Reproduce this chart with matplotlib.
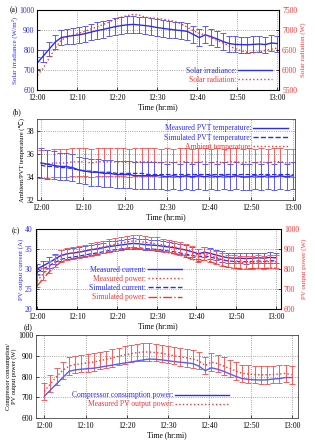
import matplotlib
matplotlib.use("Agg")
import matplotlib.pyplot as plt
from matplotlib.lines import Line2D
import numpy as np

plt.rcParams['font.family'] = ['Liberation Serif', 'DejaVu Sans']
plt.rcParams['mathtext.fontset'] = 'stix'

# time in minutes after 12:00
t = [0, 1.5, 3, 4.5, 6, 7.5, 9, 10.5, 12, 13.5, 15, 16.5, 18, 19.5, 21, 22.5, 24, 25.5, 27, 28.5,
     30, 31.5, 33, 34.5, 36, 37.5, 39, 40.5, 42, 43.5, 45, 46.5, 48, 49.5, 51, 52.5, 54, 55.5, 57, 58.5, 60]
tick_pos = [0, 10, 20, 30, 40, 50, 60]
tick_lab = ["12:00", "12:10", "12:20", "12:30", "12:40", "12:50", "13:00"]

# (a)
irr = [735, 770, 805, 840, 862, 868, 872, 876, 882, 890, 897, 903, 910, 917, 922, 926, 928, 925, 922, 918,
       912, 908, 904, 900, 897, 893, 878, 862, 876, 866, 855, 842, 832, 828, 827, 826, 828, 830, 827, 835, 832]
irr_err = [30, 32, 35, 37, 38, 39, 40, 40, 40, 40, 41, 41, 41, 42, 42, 42, 42, 42, 42, 42,
           42, 42, 42, 42, 42, 42, 42, 42, 42, 41, 41, 41, 40, 40, 40, 40, 40, 40, 40, 40, 40]
rad = [5870, 6050, 6300, 6550, 6750, 6830, 6880, 6920, 6970, 7030, 7080, 7140, 7200, 7270, 7320, 7360, 7390, 7370, 7320, 7300,
       7290, 7270, 7240, 7210, 7150, 7070, 6980, 6920, 6870, 6810, 6740, 6670, 6600, 6530, 6480, 6440, 6430, 6450, 6490, 6520, 6550]

# (b)
pvt_meas = [35.2, 35.1, 35.0, 34.9, 34.9, 34.8, 34.6, 34.5, 34.4, 34.4, 34.3, 34.3, 34.2, 34.2, 34.2, 34.1, 34.1, 34.1, 34.1, 34.1,
            34.0, 34.1, 34.0, 34.1, 34.0, 34.1, 34.0, 34.1, 34.0, 34.1, 34.0, 34.1, 34.0, 34.0, 34.1, 34.0, 34.1, 34.0, 34.1, 34.0, 34.1]
pvt_sim = [35.0, 34.9, 34.9, 34.8, 34.8, 34.7, 34.6, 34.5, 34.5, 34.4, 34.4, 34.4, 34.3, 34.3, 34.3, 34.3, 34.3, 34.2, 34.2, 34.2,
           34.2, 34.2, 34.2, 34.2, 34.2, 34.2, 34.2, 34.2, 34.2, 34.2, 34.2, 34.2, 34.2, 34.2, 34.2, 34.2, 34.2, 34.2, 34.2, 34.2, 34.2]
pvt_err = [1.3, 1.25, 1.2, 1.2, 1.15, 1.15, 1.15, 1.15, 1.15, 1.15, 1.15, 1.15, 1.15, 1.15, 1.15, 1.15, 1.15, 1.15, 1.15, 1.15,
           1.15, 1.15, 1.15, 1.15, 1.15, 1.15, 1.15, 1.15, 1.15, 1.15, 1.15, 1.15, 1.15, 1.15, 1.15, 1.15, 1.15, 1.15, 1.15, 1.15, 1.15]
amb = [35.1, 35.1, 35.2, 35.2, 35.2, 35.3, 35.3, 35.3, 35.2, 35.3, 35.3, 35.3, 35.3, 35.3, 35.2, 35.3, 35.3, 35.3, 35.3, 35.2,
       35.3, 35.2, 35.3, 35.3, 35.2, 35.3, 35.3, 35.2, 35.3, 35.2, 35.3, 35.3, 35.2, 35.3, 35.2, 35.3, 35.2, 35.3, 35.3, 35.2, 35.2]
amb_err = [1.2] * 41

# (c)
cur_meas = [30.0, 30.8, 31.6, 32.5, 33.4, 33.8, 34.0, 34.2, 34.5, 34.8, 35.0, 35.3, 35.6, 35.8, 36.0, 36.2, 36.4, 36.3, 36.1, 36.0,
            35.9, 35.7, 35.5, 35.3, 35.0, 34.7, 34.3, 33.8, 34.2, 33.9, 33.5, 33.1, 32.8, 32.7, 32.7, 32.6, 32.7, 32.8, 32.7, 32.9, 32.8]
cur_sim = [29.2, 30.0, 30.8, 31.6, 32.4, 32.8, 33.0, 33.2, 33.5, 33.8, 34.0, 34.3, 34.6, 34.8, 35.0, 35.2, 35.4, 35.3, 35.1, 35.0,
           34.9, 34.7, 34.5, 34.3, 34.0, 33.7, 33.4, 33.0, 33.3, 33.0, 32.6, 32.3, 32.0, 31.9, 31.9, 31.8, 31.9, 32.0, 31.9, 32.1, 32.0]
cur_err = [1.3] * 41
pow_meas = [740, 775, 810, 840, 865, 875, 880, 885, 890, 897, 903, 910, 917, 924, 930, 935, 940, 938, 934, 930,
            926, 920, 915, 910, 902, 893, 882, 868, 878, 868, 858, 848, 840, 836, 834, 832, 834, 836, 833, 838, 836]
pow_sim = [715, 750, 785, 812, 835, 845, 850, 855, 860, 866, 872, 878, 884, 890, 895, 900, 904, 902, 898, 894,
           890, 885, 880, 875, 867, 858, 848, 836, 845, 836, 826, 816, 808, 804, 802, 800, 802, 804, 801, 806, 804]
pow_err = [32] * 41

# (d)
comp = [705, 735, 765, 795, 825, 832, 835, 838, 840, 845, 850, 855, 860, 865, 870, 875, 880, 884, 883, 880,
        876, 872, 869, 866, 862, 850, 828, 842, 835, 825, 812, 800, 790, 786, 784, 783, 784, 788, 790, 795, 795]
pv_meas = [728, 765, 800, 830, 850, 858, 862, 866, 870, 876, 883, 890, 897, 904, 910, 915, 918, 918, 915, 912,
           906, 900, 895, 890, 884, 876, 852, 870, 862, 850, 838, 826, 815, 812, 810, 808, 808, 810, 812, 815, 808]
pv_err = [42] * 41

BLUE = '#2b2bff'
BLUE_E = '#5a5aff'
RED = '#ff3030'
RED_E = '#ff5a5a'
FS = 5.5
LFS = 5.0

fig = plt.figure(figsize=(3.15, 4.41), dpi=100)


def style(ax, xlim):
    ax.set_xlim(*xlim)
    ax.set_xticks(tick_pos)
    ax.set_xticklabels(tick_lab)
    ax.tick_params(labelsize=FS, length=2, width=0.5, direction='in', pad=2)
    ax.tick_params(axis='x', pad=3)
    ax.grid(True, linestyle=':', color='#888888', linewidth=0.6)
    for s in ax.spines.values():
        s.set_linewidth(0.6)
        s.set_color('#444444')
    ax.set_xlabel("Time (hr:mi)", fontsize=FS, labelpad=1)


W, H = 315.0, 441.0


def rect(l, r, top, bot):
    return [l / W, 1 - bot / H, (r - l) / W, (bot - top) / H]


def leg(ax, specs, **kw):
    handles = [Line2D([], [], color=c, ls=ls, lw=1.0) for (_, c, ls) in specs]
    labels = [s for (s, _, _) in specs]
    ax.legend(handles, labels, frameon=False, fontsize=FS, markerfirst=False,
              labelcolor=[c for (_, c, _) in specs], borderpad=0.1, labelspacing=0.15,
              handletextpad=0.2, **kw)


ebkw = dict(capsize=2.0, elinewidth=0.7, capthick=0.7)

# ---------- (a)
axa = fig.add_axes(rect(37.3, 279.3, 10, 90))
axa.errorbar(t, irr, yerr=irr_err, color=BLUE, ecolor=BLUE_E, lw=1.0, **ebkw)
axa.set_ylim(600, 1000)
axa.set_yticks([600, 700, 800, 900, 1000])
style(axa, (0, 60.5))
axa.tick_params(axis='y', labelcolor=BLUE)
axa.set_ylabel("Solar irradiance (W/m²)", fontsize=LFS, color=BLUE, labelpad=1)
axa2 = axa.twinx()
axa2.plot(t, rad, color=RED, ls=':', lw=1.0)
axa2.set_ylim(5500, 7500)
axa2.set_yticks([5500, 6000, 6500, 7000, 7500])
axa2.tick_params(labelsize=FS, length=2, width=0.5, direction='in', labelcolor=RED, pad=2)
axa2.set_ylabel("Solar radiation (W)", fontsize=LFS, color=RED, labelpad=2)
leg(axa2, [("Solar irradiance:", BLUE, '-'), ("Solar radiation:", RED, ':')],
    loc='lower right', bbox_to_anchor=(0.99, 0.02), handlelength=4.5)
fig.text(10 / W, 1 - 10 / H, "(a)", fontsize=FS, va='center')

# ---------- (b)
axb = fig.add_axes(rect(36.7, 295, 119, 200))
axb.errorbar(t, amb, yerr=amb_err, color=RED, ecolor=RED_E, ls=':', lw=1.0, **ebkw)
axb.errorbar(t, pvt_meas, yerr=pvt_err, color=BLUE, ecolor=BLUE_E, lw=1.0, **ebkw)
axb.plot(t, pvt_sim, color=BLUE, ls='--', lw=0.9)
axb.set_ylim(32, 39)
axb.set_yticks([32, 34, 36, 38])
style(axb, (-1.0, 60.5))
axb.set_ylabel("Ambient/PVT temperature (℃)", fontsize=4.8, labelpad=1)
leg(axb, [("Measured PVT temperature:", BLUE, '-'), ("Simulated PVT temperature:", BLUE, '--'),
          ("Ambient temperature:", RED, ':')],
    loc='upper right', bbox_to_anchor=(0.99, 0.99), handlelength=4.5)
fig.text(13 / W, 1 - 112 / H, "(b)", fontsize=FS, va='center')

# ---------- (c)
axc = fig.add_axes(rect(35.5, 281, 229, 309))
axc.errorbar(t, cur_meas, yerr=cur_err, color=BLUE, ecolor=BLUE_E, lw=1.0, **ebkw)
axc.plot(t, cur_sim, color=BLUE, ls='--', lw=0.9)
axc.set_ylim(20, 40)
axc.set_yticks([20, 25, 30, 35, 40])
style(axc, (-0.4, 61.25))
axc.tick_params(axis='y', labelcolor=BLUE)
axc.set_ylabel("PV output current (A)", fontsize=LFS, color=BLUE, labelpad=1)
axc2 = axc.twinx()
axc2.errorbar(t, pow_meas, yerr=pow_err, color=RED, ecolor=RED_E, ls=':', lw=1.0, **ebkw)
axc2.plot(t, pow_sim, color=RED, ls='-.', lw=0.9)
axc2.set_ylim(600, 1000)
axc2.set_yticks([600, 700, 800, 900, 1000])
axc2.tick_params(labelsize=FS, length=2, width=0.5, direction='in', labelcolor=RED, pad=2)
axc2.set_ylabel("PV output power (W)", fontsize=LFS, color=RED, labelpad=2)
leg(axc2, [("Measured current:", BLUE, '-'), ("Measured power:", RED, ':'),
           ("Simulated current:", BLUE, '--'), ("Simulated power:", RED, '-.')],
    loc='lower left', bbox_to_anchor=(0.2, 0.04), handlelength=4.5)
fig.text(12 / W, 1 - 231 / H, "(c)", fontsize=FS, va='center')

# ---------- (d)
axd = fig.add_axes(rect(36, 298, 335, 418))
axd.errorbar(t, pv_meas, yerr=pv_err, color=RED, ecolor=RED_E, ls=':', lw=1.0, **ebkw)
axd.plot(t, comp, color=BLUE_E, lw=1.0)
axd.set_ylim(600, 1000)
axd.set_yticks([600, 700, 800, 900, 1000])
style(axd, (-2.0, 61.5))
axd.set_ylabel("Compressor consumption/\nPV output power (W)", fontsize=4.6, labelpad=1, linespacing=1.0)
leg(axd, [("Compressor consumption power:", BLUE, '-'), ("Measured PV output power:", RED, ':')],
    loc='lower left', bbox_to_anchor=(0.12, 0.06), handlelength=7)
fig.text(24 / W, 1 - 327 / H, "(d)", fontsize=FS, va='center')

fig.savefig("out.png", dpi=100)
